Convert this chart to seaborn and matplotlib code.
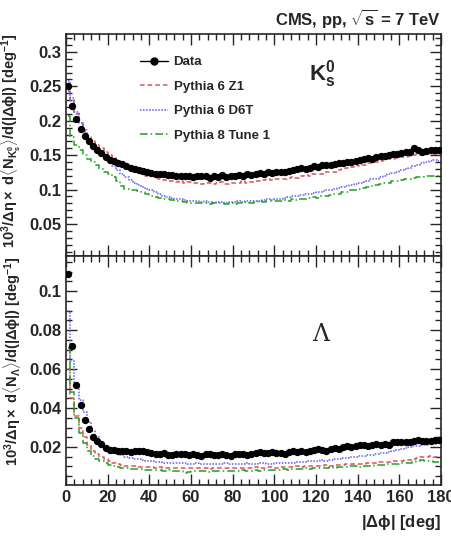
import numpy as np
import pandas as pd
import matplotlib
matplotlib.use('Agg')
import matplotlib.pyplot as plt
from matplotlib.lines import Line2D
from matplotlib.ticker import MultipleLocator
import seaborn as sns

# bin centres, 2 deg bins
dphi = np.arange(1, 180, 2)

# K0s panel
k0_data = [0.250, 0.222, 0.202, 0.188, 0.178, 0.170, 0.163, 0.158, 0.153, 0.148,
           0.1435, 0.142, 0.139, 0.137, 0.134, 0.132, 0.130, 0.128, 0.127, 0.126,
           0.124, 0.123, 0.122, 0.122, 0.121, 0.121, 0.120, 0.120, 0.119, 0.120,
           0.118, 0.119, 0.120, 0.119, 0.117, 0.120, 0.118, 0.121, 0.118, 0.119,
           0.120, 0.121, 0.119, 0.122, 0.121, 0.123, 0.124, 0.123, 0.125, 0.124,
           0.125, 0.126, 0.125, 0.127, 0.129, 0.130, 0.131, 0.130, 0.132, 0.134,
           0.133, 0.135, 0.136, 0.135, 0.137, 0.138, 0.139, 0.140, 0.140, 0.142,
           0.143, 0.145, 0.146, 0.145, 0.148, 0.149, 0.149, 0.150, 0.151, 0.152,
           0.153, 0.154, 0.155, 0.160, 0.157, 0.154, 0.156, 0.157, 0.158, 0.158]
k0_z1 = [0.243, 0.228, 0.210, 0.196, 0.186, 0.177, 0.170, 0.165, 0.160, 0.155,
         0.150, 0.146, 0.141, 0.137, 0.132, 0.129, 0.126, 0.124, 0.122, 0.120,
         0.119, 0.117, 0.116, 0.114, 0.113, 0.112, 0.111, 0.112, 0.110, 0.111,
         0.109, 0.110, 0.108, 0.109, 0.110, 0.108, 0.109, 0.111, 0.108, 0.110,
         0.109, 0.110, 0.112, 0.110, 0.111, 0.113, 0.112, 0.114, 0.115, 0.114,
         0.115, 0.116, 0.115, 0.117, 0.118, 0.117, 0.119, 0.121, 0.120, 0.122,
         0.123, 0.122, 0.125, 0.126, 0.125, 0.128, 0.130, 0.132, 0.133, 0.135,
         0.134, 0.136, 0.138, 0.139, 0.140, 0.142, 0.143, 0.144, 0.145, 0.146,
         0.147, 0.148, 0.149, 0.150, 0.151, 0.150, 0.151, 0.152, 0.151, 0.151]
k0_d6t = [0.257, 0.233, 0.213, 0.197, 0.183, 0.173, 0.165, 0.158, 0.152, 0.146,
          0.140, 0.134, 0.128, 0.123, 0.118, 0.114, 0.110, 0.107, 0.104, 0.101,
          0.099, 0.096, 0.093, 0.091, 0.089, 0.088, 0.087, 0.086, 0.085, 0.084,
          0.083, 0.083, 0.082, 0.083, 0.082, 0.081, 0.082, 0.082, 0.081, 0.082,
          0.082, 0.083, 0.082, 0.083, 0.084, 0.083, 0.084, 0.085, 0.086, 0.085,
          0.086, 0.087, 0.088, 0.089, 0.090, 0.091, 0.092, 0.093, 0.094, 0.095,
          0.096, 0.097, 0.099, 0.100, 0.101, 0.103, 0.104, 0.105, 0.107, 0.108,
          0.110, 0.111, 0.113, 0.115, 0.116, 0.118, 0.120, 0.122, 0.124, 0.126,
          0.128, 0.130, 0.132, 0.134, 0.136, 0.138, 0.140, 0.142, 0.143, 0.141]
k0_p8 = [0.207, 0.176, 0.165, 0.157, 0.150, 0.145, 0.140, 0.135, 0.130, 0.126,
         0.122, 0.118, 0.112, 0.105, 0.101, 0.100, 0.099, 0.098, 0.096, 0.093,
         0.091, 0.089, 0.088, 0.087, 0.086, 0.085, 0.084, 0.083, 0.082, 0.081,
         0.081, 0.080, 0.081, 0.080, 0.079, 0.080, 0.081, 0.080, 0.079, 0.080,
         0.079, 0.080, 0.081, 0.082, 0.081, 0.082, 0.083, 0.082, 0.083, 0.084,
         0.083, 0.084, 0.085, 0.084, 0.086, 0.085, 0.087, 0.086, 0.088, 0.089,
         0.088, 0.090, 0.091, 0.092, 0.093, 0.094, 0.096, 0.097, 0.099, 0.100,
         0.101, 0.102, 0.104, 0.105, 0.106, 0.108, 0.109, 0.110, 0.112, 0.113,
         0.114, 0.115, 0.116, 0.117, 0.118, 0.118, 0.119, 0.120, 0.120, 0.120]

# Lambda panel
lam_data = [0.109, 0.072, 0.052, 0.0415, 0.034, 0.029, 0.025, 0.023, 0.0215, 0.0195,
            0.0185, 0.0185, 0.018, 0.018, 0.0178, 0.0175, 0.018, 0.0182, 0.0178, 0.0172,
            0.017, 0.0165, 0.0162, 0.0168, 0.016, 0.0158, 0.0165, 0.0166, 0.0164, 0.016,
            0.0162, 0.0158, 0.0155, 0.0162, 0.0165, 0.016, 0.0158, 0.0162, 0.016, 0.0155,
            0.0163, 0.0166, 0.0164, 0.016, 0.0165, 0.0168, 0.0172, 0.017, 0.0169, 0.0172,
            0.017, 0.0167, 0.0165, 0.0175, 0.0177, 0.0176, 0.018, 0.0176, 0.0178, 0.0185,
            0.019, 0.0186, 0.018, 0.019, 0.0195, 0.0192, 0.0198, 0.0205, 0.020, 0.0203,
            0.0208, 0.021, 0.0207, 0.0212, 0.0213, 0.021, 0.0215, 0.0212, 0.0225, 0.0227,
            0.0225, 0.0228, 0.0227, 0.0232, 0.0235, 0.0232, 0.023, 0.0232, 0.0235, 0.0238]
lam_z1 = [0.060, 0.045, 0.036, 0.030, 0.025, 0.021, 0.018, 0.0162, 0.0148, 0.0138,
          0.0128, 0.012, 0.0115, 0.011, 0.0105, 0.0102, 0.010, 0.0098, 0.0097, 0.0096,
          0.0095, 0.0094, 0.0096, 0.0093, 0.0092, 0.0094, 0.0091, 0.009, 0.0093, 0.0092,
          0.009, 0.0091, 0.0093, 0.009, 0.0089, 0.0092, 0.0091, 0.009, 0.0093, 0.0092,
          0.009, 0.0091, 0.0094, 0.0092, 0.0093, 0.0095, 0.0094, 0.0093, 0.0096, 0.0095,
          0.0094, 0.0097, 0.0098, 0.0096, 0.0099, 0.010, 0.0098, 0.0101, 0.0103, 0.0102,
          0.0104, 0.0103, 0.0106, 0.0105, 0.0108, 0.011, 0.0107, 0.0111, 0.0113, 0.0112,
          0.0115, 0.0114, 0.0117, 0.012, 0.0118, 0.0122, 0.0125, 0.0123, 0.0127, 0.013,
          0.0128, 0.0132, 0.0135, 0.0138, 0.0145, 0.015, 0.0148, 0.0152, 0.015, 0.0148]
lam_d6t = [0.090, 0.064, 0.052, 0.044, 0.038, 0.033, 0.028, 0.025, 0.022, 0.0195,
           0.018, 0.0172, 0.0165, 0.0158, 0.015, 0.0145, 0.014, 0.0138, 0.0135, 0.013,
           0.0128, 0.0125, 0.0122, 0.012, 0.012, 0.0118, 0.0117, 0.0116, 0.0118, 0.0115,
           0.0114, 0.0116, 0.0113, 0.0112, 0.0114, 0.0115, 0.0113, 0.0114, 0.0116, 0.0115,
           0.0114, 0.0113, 0.0115, 0.0116, 0.0114, 0.0115, 0.0117, 0.0116, 0.0114, 0.0115,
           0.0117, 0.0118, 0.012, 0.0118, 0.0119, 0.0122, 0.0121, 0.0124, 0.0126, 0.0128,
           0.013, 0.0132, 0.013, 0.0135, 0.0138, 0.014, 0.0142, 0.0145, 0.0147, 0.015,
           0.0152, 0.0155, 0.0158, 0.016, 0.0163, 0.0167, 0.017, 0.0175, 0.018, 0.0185,
           0.019, 0.0195, 0.020, 0.0203, 0.0205, 0.0208, 0.021, 0.0213, 0.0215, 0.022]
lam_p8 = [0.071, 0.048, 0.035, 0.027, 0.022, 0.018, 0.0155, 0.014, 0.0128, 0.0118,
          0.011, 0.0102, 0.0096, 0.0092, 0.009, 0.0088, 0.0086, 0.0087, 0.0085, 0.0083,
          0.0082, 0.0084, 0.008, 0.0079, 0.0081, 0.0078, 0.0077, 0.0075, 0.0068, 0.0072,
          0.0076, 0.0078, 0.0075, 0.0077, 0.0074, 0.0076, 0.0078, 0.0075, 0.0077, 0.0079,
          0.0076, 0.0078, 0.008, 0.0077, 0.0079, 0.0081, 0.0078, 0.0082, 0.008, 0.0083,
          0.0081, 0.0084, 0.0086, 0.0083, 0.0087, 0.0085, 0.0088, 0.009, 0.0087, 0.0091,
          0.0093, 0.009, 0.0094, 0.0096, 0.0093, 0.0097, 0.0099, 0.0096, 0.010, 0.0102,
          0.0099, 0.0103, 0.0105, 0.0102, 0.0107, 0.011, 0.0108, 0.0112, 0.0115, 0.0113,
          0.0117, 0.012, 0.0118, 0.0122, 0.0128, 0.0132, 0.013, 0.0127, 0.0125, 0.0122]

labels = ['Data', 'Pythia 6 Z1', 'Pythia 6 D6T', 'Pythia 8 Tune 1']
colors = {'Pythia 6 Z1': '#d8545c', 'Pythia 6 D6T': '#5c5cf2', 'Pythia 8 Tune 1': '#22a022'}
styles = {'Pythia 6 Z1': (0, (3, 2)), 'Pythia 6 D6T': (0, (1, 1)), 'Pythia 8 Tune 1': (0, (5, 2, 1, 2))}

sns.set_style('ticks')
plt.rcParams['font.family'] = ['Liberation Sans', 'DejaVu Sans']
plt.rcParams['font.weight'] = 'bold'
plt.rcParams['mathtext.fontset'] = 'custom'
plt.rcParams['mathtext.rm'] = 'Liberation Sans:bold'
plt.rcParams['mathtext.it'] = 'Liberation Sans:bold'
plt.rcParams['mathtext.bf'] = 'Liberation Sans:bold'

fig = plt.figure(figsize=(4.51, 5.37), dpi=100)
ax1 = fig.add_axes([66/451, 1-256/537, 375/451, 222/537])
ax2 = fig.add_axes([66/451, 1-485/537, 375/451, 229/537])


def draw(ax, data, z1, d6t, p8):
    mc = {'Pythia 6 Z1': z1, 'Pythia 6 D6T': d6t, 'Pythia 8 Tune 1': p8}
    for name, vals in mc.items():
        sns.lineplot(x=dphi, y=vals, ax=ax, color=colors[name], linestyle=styles[name],
                     linewidth=1.1, drawstyle='steps-mid', estimator=None, legend=False)
    sns.scatterplot(x=dphi, y=data, ax=ax, color='black', s=28, edgecolor='black',
                    linewidth=0, zorder=5, legend=False)
    ax.set_xlim(0, 180)
    ax.xaxis.set_major_locator(MultipleLocator(20))
    ax.xaxis.set_minor_locator(MultipleLocator(4))
    ax.tick_params(which='both', direction='in', top=True, right=True, labelsize=12, width=1)
    ax.tick_params(which='major', length=8)
    ax.tick_params(which='minor', length=4)
    for sp in ax.spines.values():
        sp.set_linewidth(1.2)


draw(ax1, k0_data, k0_z1, k0_d6t, k0_p8)
ax1.set_ylim(0.0035, 0.326)
ax1.yaxis.set_minor_locator(MultipleLocator(0.01))
ax1.set_yticks([0.05, 0.1, 0.15, 0.2, 0.25, 0.3])
ax1.set_yticklabels(['0.05', '0.1', '0.15', '0.2', '0.25', '0.3'], fontweight='bold')
ax1.tick_params(labelbottom=False)

draw(ax2, lam_data, lam_z1, lam_d6t, lam_p8)
ax2.set_ylim(0.0005, 0.118)
ax2.yaxis.set_minor_locator(MultipleLocator(0.005))
ax2.set_yticks([0.02, 0.04, 0.06, 0.08, 0.1])
ax2.set_yticklabels(['0.02', '0.04', '0.06', '0.08', '0.1'], fontweight='bold')
ax2.set_xticks(np.arange(0, 181, 20))
ax2.set_xticklabels([str(v) for v in range(0, 181, 20)], fontweight='bold')

ax1.set_ylabel(r'10$^{3}$/$\Delta\eta\times$ d$\langle$N$_{\mathrm{K^{0}_{s}}}\rangle$/d(|$\Delta\phi$|) [deg$^{-1}$]',
               fontsize=10.5, fontweight='bold')
ax2.set_ylabel(r'10$^{3}$/$\Delta\eta\times$ d$\langle$N$_{\Lambda}\rangle$/d(|$\Delta\phi$|) [deg$^{-1}$]',
               fontsize=10.5, fontweight='bold')
ax1.yaxis.set_label_coords(-0.115, 0.52)
ax2.yaxis.set_label_coords(-0.115, 0.54)
ax2.set_xlabel(r'|$\Delta\phi$| [deg]', fontsize=12, fontweight='bold', loc='right', labelpad=6)

handles = [Line2D([], [], color='black', marker='o', markersize=5, linewidth=1)]
for name in labels[1:]:
    handles.append(Line2D([], [], color=colors[name], linestyle=styles[name], linewidth=1.1))
ax1.legend(handles, labels, loc='upper left', bbox_to_anchor=(0.197, 0.90), frameon=False,
           prop={'weight': 'bold', 'size': 9.5}, handlelength=2.1, labelspacing=0.92,
           handletextpad=0.45, borderpad=0, borderaxespad=0)

ax1.text(0.648, 0.79, r'K$^{0}_{s}$', transform=ax1.transAxes, fontsize=16,
         fontweight='bold', va='baseline')
ax2.text(0.655, 0.63, 'Λ', transform=ax2.transAxes, fontsize=17, fontweight='normal',
         family='DejaVu Serif', va='baseline')

fig.text(441/451, 1-18/537, r'CMS, pp, $\sqrt{s}$ = 7 TeV', ha='right', va='center',
         fontsize=12, fontweight='bold')

fig.savefig('out.png', dpi=100)
